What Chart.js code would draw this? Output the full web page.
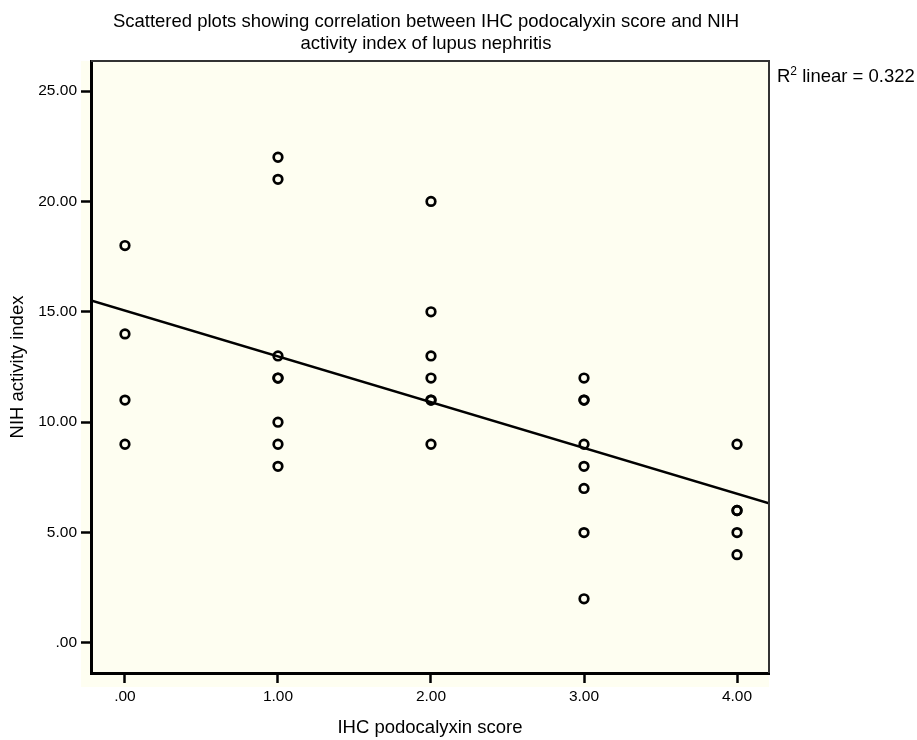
<!DOCTYPE html>
<html>
<head>
<meta charset="utf-8">
<script src="https://cdn.jsdelivr.net/npm/chart.js@4.4.1/dist/chart.umd.min.js"></script>
<style>
    html, body { margin: 0; padding: 0; background: #ffffff; }
    #wrap { width: 917px; height: 740px; }
</style>
</head>
<body>
<div id="wrap"><canvas id="chart" width="917" height="740"></canvas></div>
<script>
// IHC podocalyxin score (x) and NIH activity index (y), one entry per case
const podocalyxinScore = [
    0, 0, 0, 0,
    1, 1, 1, 1, 1, 1, 1, 1,
    2, 2, 2, 2, 2, 2, 2,
    3, 3, 3, 3, 3, 3, 3, 3,
    4, 4, 4, 4, 4
];
const activityIndex = [
    18, 14, 11, 9,
    22, 21, 13, 12, 12, 10, 9, 8,
    20, 15, 13, 12, 11, 11, 9,
    12, 11, 11, 9, 8, 7, 5, 2,
    9, 6, 6, 5, 4
];

const xTickValues = [0, 1, 2, 3, 4];
const xTickLabels = [".00", "1.00", "2.00", "3.00", "4.00"];
const yTickValues = [0, 5, 10, 15, 20, 25];
const yTickLabels = [".00", "5.00", "10.00", "15.00", "20.00", "25.00"];

const xRange = [-0.222, 4.209];
const yRange = [-1.36, 26.36];

const titleLines = [
    "Scattered plots showing correlation between IHC podocalyxin score and NIH",
    "activity index of lupus nephritis"
];

const FONT = "'Liberation Sans', Arial, Helvetica, sans-serif";
const PLOT_BG = "#fefef1";

function linearFit(xs, ys) {
    const n = xs.length;
    const mx = xs.reduce((a, b) => a + b, 0) / n;
    const my = ys.reduce((a, b) => a + b, 0) / n;
    let sxx = 0, sxy = 0, syy = 0;
    for (let i = 0; i < n; i++) {
        sxx += (xs[i] - mx) ** 2;
        sxy += (xs[i] - mx) * (ys[i] - my);
        syy += (ys[i] - my) ** 2;
    }
    const slope = sxy / sxx;
    return { slope, intercept: my - slope * mx, r2: (sxy * sxy) / (sxx * syy) };
}

const fit = linearFit(podocalyxinScore, activityIndex);
const points = podocalyxinScore.map((x, i) => ({ x, y: activityIndex[i] }));
const fitLine = xRange.map((x) => ({ x, y: fit.intercept + fit.slope * x }));

// cream plot background (reaches a little under the ticks), thin top/right frame,
// the title centred over the plot and the R² note
const frame = {
    id: "frame",
    beforeDraw(chart) {
        const { ctx, chartArea: a } = chart;
        ctx.save();
        ctx.fillStyle = PLOT_BG;
        ctx.fillRect(a.left - 10, a.top, a.right - a.left + 10, a.bottom - a.top + 14);
        ctx.restore();
    },
    afterDraw(chart) {
        const { ctx, chartArea: a } = chart;
        ctx.save();
        ctx.strokeStyle = "#333333";
        ctx.lineWidth = 2;
        ctx.beginPath();
        ctx.moveTo(a.left, a.top);
        ctx.lineTo(a.right, a.top);
        ctx.lineTo(a.right, a.bottom);
        ctx.stroke();

        ctx.fillStyle = "#000000";
        ctx.font = "18.5px " + FONT;
        ctx.textAlign = "center";
        ctx.textBaseline = "middle";
        const cx = (a.left + a.right) / 2 - 4;
        titleLines.forEach((line, i) => {
            ctx.fillText(line, cx, 22 + i * 21.5);
        });

        let x = a.right + 8;
        const y = a.top + 21;
        ctx.textBaseline = "alphabetic";
        ctx.textAlign = "left";
        ctx.fillText("R", x, y);
        x += ctx.measureText("R").width;
        ctx.font = "12px " + FONT;
        ctx.fillText("2", x, y - 7);
        x += ctx.measureText("2").width;
        ctx.font = "18.5px " + FONT;
        ctx.fillText(" linear = " + fit.r2.toFixed(3), x, y);
        ctx.restore();
    }
};

function axisTicks(values) {
    return (scale) => {
        scale.ticks = values.map((value) => ({ value }));
    };
}

const ctx = document.getElementById("chart").getContext("2d");
new Chart(ctx, {
    type: "scatter",
    data: {
        datasets: [
            {
                label: "cases",
                data: points,
                pointStyle: "circle",
                pointRadius: 4.3,
                pointBorderWidth: 2.7,
                pointBorderColor: "#000000",
                pointBackgroundColor: "rgba(0,0,0,0)",
                showLine: false
            },
            {
                label: "fit",
                type: "line",
                data: fitLine,
                borderColor: "#000000",
                borderWidth: 2.5,
                pointRadius: 0,
                fill: false
            }
        ]
    },
    options: {
        responsive: false,
        animation: false,
        devicePixelRatio: 1,
        layout: { padding: { top: 61, right: 148, bottom: 0, left: 0 } },
        plugins: {
            legend: { display: false },
            tooltip: { enabled: false },
            title: { display: false }
        },
        scales: {
            x: {
                type: "linear",
                min: xRange[0],
                max: xRange[1],
                afterBuildTicks: axisTicks(xTickValues),
                afterFit: (scale) => { scale.height = 67; },
                ticks: {
                    color: "#000000",
                    font: { family: FONT, size: 15.5 },
                    padding: 4,
                    maxRotation: 0,
                    callback: (value) => xTickLabels[xTickValues.indexOf(value)] ?? ""
                },
                grid: {
                    drawOnChartArea: false,
                    drawTicks: true,
                    tickLength: 10,
                    tickWidth: 2.5,
                    tickColor: "#000000"
                },
                border: { display: true, color: "#000000", width: 3 },
                title: {
                    display: true,
                    text: "IHC podocalyxin score",
                    color: "#000000",
                    font: { family: FONT, size: 18.5 },
                    padding: { top: 0, bottom: 1 }
                }
            },
            y: {
                type: "linear",
                min: yRange[0],
                max: yRange[1],
                afterBuildTicks: axisTicks(yTickValues),
                afterFit: (scale) => { scale.width = 91; },
                ticks: {
                    color: "#000000",
                    font: { family: FONT, size: 15.5 },
                    padding: 4,
                    callback: (value) => yTickLabels[yTickValues.indexOf(value)] ?? ""
                },
                grid: {
                    drawOnChartArea: false,
                    drawTicks: true,
                    tickLength: 10,
                    tickWidth: 2.5,
                    tickColor: "#000000"
                },
                border: { display: true, color: "#000000", width: 3 },
                title: {
                    display: true,
                    text: "NIH activity index",
                    color: "#000000",
                    font: { family: FONT, size: 18.5 },
                    padding: { top: 7, bottom: 0 }
                }
            }
        }
    },
    plugins: [frame]
});
</script>
</body>
</html>
